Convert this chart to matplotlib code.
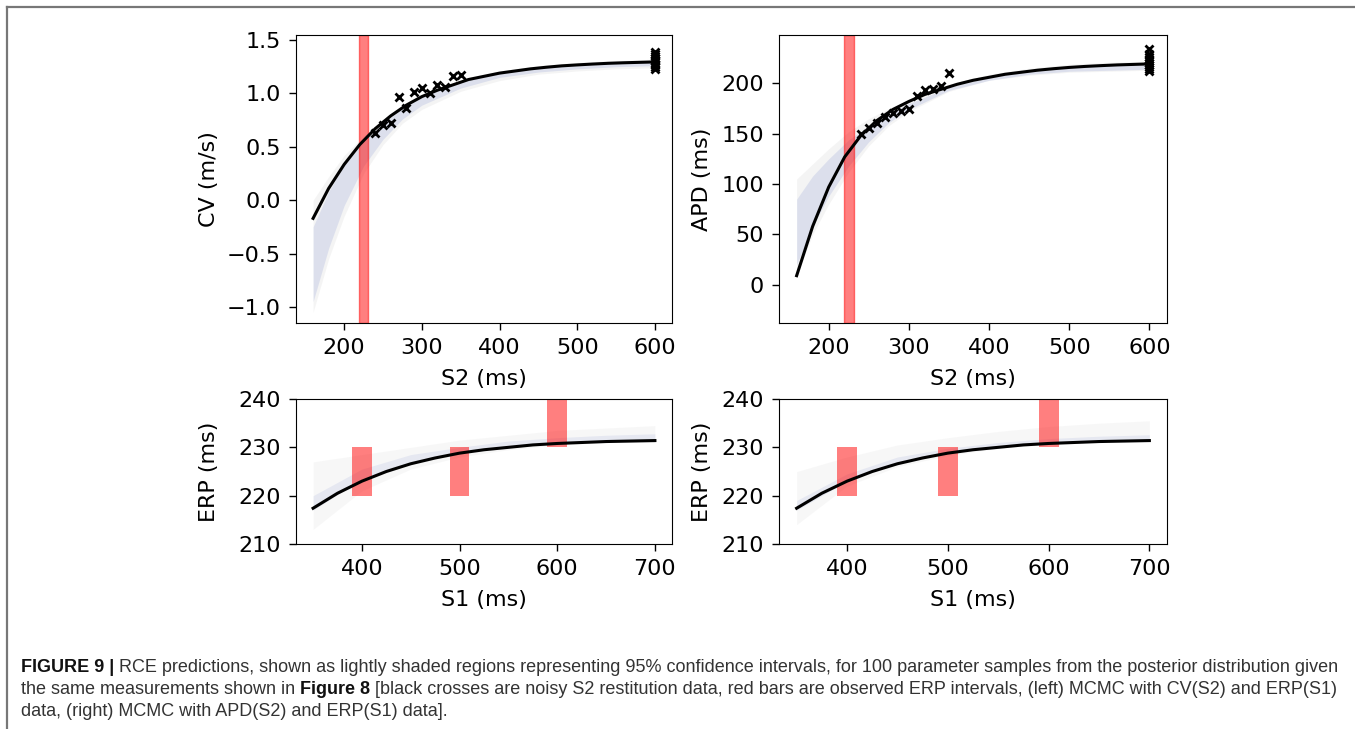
import matplotlib
matplotlib.use("Agg")
import matplotlib.pyplot as plt
from matplotlib.lines import Line2D

# ---------------- data ----------------
# S2 restitution: black mean curve
s2_curve = [160, 180, 200, 220, 240, 260, 280, 300, 320, 340, 360, 380, 400,
            420, 440, 460, 480, 500, 520, 540, 560, 580, 600]
cv_curve = [-0.17, 0.11, 0.335, 0.52, 0.67, 0.79, 0.89, 0.97, 1.03, 1.08, 1.13, 1.16, 1.19,
            1.21, 1.23, 1.245, 1.258, 1.267, 1.275, 1.282, 1.287, 1.291, 1.295]
apd_curve = [9, 58, 97, 127, 148, 163, 174, 182, 189, 194, 199, 203, 206,
             209, 211, 213, 214.5, 215.8, 216.8, 217.6, 218.3, 218.8, 219.3]

# band of posterior samples (outer grey / inner blue)
s2_band = [160, 180, 200, 225, 250, 275, 300, 350, 400, 450, 500, 550, 600]
cv_grey_lo = [-1.05, -0.55, -0.15, 0.25, 0.52, 0.72, 0.85, 1.02, 1.12, 1.18, 1.21, 1.23, 1.24]
cv_grey_hi = [0.0, 0.22, 0.42, 0.60, 0.76, 0.89, 0.99, 1.12, 1.21, 1.26, 1.29, 1.31, 1.32]
cv_blue_lo = [-0.95, -0.45, -0.05, 0.32, 0.57, 0.76, 0.89, 1.05, 1.15, 1.20, 1.23, 1.25, 1.26]
cv_blue_hi = [-0.25, 0.08, 0.33, 0.55, 0.72, 0.86, 0.97, 1.11, 1.19, 1.25, 1.28, 1.30, 1.31]
apd_grey_lo = [10, 50, 80, 112, 138, 158, 172, 192, 203, 208, 211, 212, 213]
apd_grey_hi = [105, 120, 135, 152, 165, 175, 184, 199, 209, 215, 219, 221, 222]
apd_blue_lo = [20, 58, 88, 118, 142, 161, 174, 193, 203, 209, 212, 213, 214]
apd_blue_hi = [85, 108, 125, 144, 158, 170, 180, 196, 206, 212, 216, 218, 219]

# noisy S2 data
s2_obs = [240, 250, 260, 270, 280, 290, 300, 310, 320, 330, 340, 350]
cv_obs = [0.63, 0.70, 0.72, 0.97, 0.86, 1.01, 1.05, 1.00, 1.08, 1.06, 1.16, 1.17]
apd_obs = [150, 156, 161, 167, 171, 173, 175, 187, 193, 194, 197, 210]
s2_obs600 = [600] * 10
cv_obs600 = [1.23, 1.25, 1.27, 1.28, 1.30, 1.31, 1.33, 1.35, 1.37, 1.39]
apd_obs600 = [212, 214, 216, 218, 220, 222, 224, 226, 229, 234]

# ERP interval (red vertical span on top panels)
erp_span = [219, 231]

# ERP(S1)
s1_curve = [350, 375, 400, 425, 450, 475, 500, 525, 550, 575, 600, 625, 650, 675, 700]
erp_curve = [217.4, 220.5, 223.0, 225.0, 226.6, 227.8, 228.8, 229.5, 230.0, 230.5, 230.8,
             231.0, 231.2, 231.3, 231.4]
s1_band = [350, 400, 450, 500, 550, 600, 650, 700]
erpL_grey_lo = [213.0, 221.0, 225.5, 228.0, 229.5, 230.5, 231.0, 231.0]
erpL_grey_hi = [227.0, 228.5, 230.0, 231.5, 232.5, 233.5, 234.0, 234.5]
erpL_blue_lo = [217.0, 223.5, 227.0, 228.8, 230.0, 230.8, 231.3, 231.5]
erpL_blue_hi = [220.0, 225.5, 228.5, 230.0, 231.3, 232.0, 232.5, 232.8]
erpR_grey_lo = [214.0, 222.0, 226.0, 228.3, 229.8, 230.6, 231.0, 231.2]
erpR_grey_hi = [225.0, 228.0, 230.5, 232.0, 233.3, 234.3, 235.0, 235.5]
erpR_blue_lo = [217.0, 223.0, 226.8, 228.8, 230.0, 230.8, 231.2, 231.4]
erpR_blue_hi = [219.0, 224.5, 228.0, 229.8, 231.0, 231.8, 232.3, 232.6]

# observed ERP intervals (red bars)
erp_s1 = [400, 500, 600]
erp_lo = [220, 220, 230]
erp_hi = [230, 230, 250]
erp_bar_width = 20

caption_lines = [
    [("FIGURE 9 | ", True), ("RCE predictions, shown as lightly shaded regions representing 95% confidence intervals, for 100 parameter samples from the posterior distribution given", False)],
    [("the same measurements shown in ", False), ("Figure 8", True), (" [black crosses are noisy S2 restitution data, red bars are observed ERP intervals, (left) MCMC with CV(S2) and ERP(S1)", False)],
    [("data, (right) MCMC with APD(S2) and ERP(S1) data].", False)],
]

# ---------------- figure ----------------
W, H = 1355, 729
fig = plt.figure(figsize=(W / 100, H / 100), dpi=100)
FS = 16

def ax_at(l, t, r, b):
    return fig.add_axes([l / W, 1 - b / H, (r - l) / W, (b - t) / H])

axTL = ax_at(296, 35, 672, 323)
axTR = ax_at(779, 35, 1167, 323)
axBL = ax_at(296, 399, 672, 544)
axBR = ax_at(779, 399, 1167, 544)

grey = '#9a9a9a'
blue = '#7f8fd0'

def top_panel(ax, yc, glo, ghi, blo, bhi, yobs, yobs600, ylabel, ylim, yticks):
    ax.fill_between(s2_band, glo, ghi, color=grey, alpha=0.10, lw=0)
    ax.fill_between(s2_band, blo, bhi, color=blue, alpha=0.20, lw=0)
    ax.axvspan(erp_span[0], erp_span[1], color='red', alpha=0.5)
    ax.plot(s2_curve, yc, color='black', lw=2.2)
    ax.plot(s2_obs, yobs, 'x', color='black', ms=6, mew=2)
    ax.plot(s2_obs600, yobs600, 'x', color='black', ms=6, mew=2)
    ax.set_xlim(138, 622)
    ax.set_ylim(*ylim)
    ax.set_yticks(yticks)
    ax.set_xticks([200, 300, 400, 500, 600])
    ax.set_xlabel('S2 (ms)')
    ax.set_ylabel(ylabel)

top_panel(axTL, cv_curve, cv_grey_lo, cv_grey_hi, cv_blue_lo, cv_blue_hi, cv_obs, cv_obs600,
          'CV (m/s)', (-1.15, 1.547), [-1.0, -0.5, 0.0, 0.5, 1.0, 1.5])
top_panel(axTR, apd_curve, apd_grey_lo, apd_grey_hi, apd_blue_lo, apd_blue_hi, apd_obs, apd_obs600,
          'APD (ms)', (-38, 248), [0, 50, 100, 150, 200])

def bottom_panel(ax, glo, ghi, blo, bhi):
    ax.fill_between(s1_band, glo, ghi, color=grey, alpha=0.07, lw=0)
    ax.fill_between(s1_band, blo, bhi, color=blue, alpha=0.14, lw=0)
    for s, lo, hi in zip(erp_s1, erp_lo, erp_hi):
        ax.fill_between([s - erp_bar_width / 2, s + erp_bar_width / 2], [lo, lo], [hi, hi],
                        color='red', alpha=0.5, lw=0)
    ax.plot(s1_curve, erp_curve, color='black', lw=2.2)
    ax.set_xlim(332.5, 717.5)
    ax.set_ylim(210, 240)
    ax.set_yticks([210, 220, 230, 240])
    ax.set_xticks([400, 500, 600, 700])
    ax.set_xlabel('S1 (ms)')
    ax.set_ylabel('ERP (ms)')

bottom_panel(axBL, erpL_grey_lo, erpL_grey_hi, erpL_blue_lo, erpL_blue_hi)
bottom_panel(axBR, erpR_grey_lo, erpR_grey_hi, erpR_blue_lo, erpR_blue_hi)

for ax in (axTL, axTR, axBL, axBR):
    ax.tick_params(labelsize=FS, length=5, width=1.0, pad=6)
    ax.xaxis.label.set_size(FS)
    ax.yaxis.label.set_size(FS)
    ax.xaxis.labelpad = 8

# aligned y-labels per column (right edge of rotated label, in pixels)
for ax, (l, r) in ((axTL, (296, 672)), (axBL, (296, 672)), (axTR, (779, 1167)), (axBR, (779, 1167))):
    xr = 219 if l == 296 else 712
    ax.yaxis.set_label_coords((xr - l) / (r - l), 0.5)

# frame lines (top and left)
fig.add_artist(Line2D([7 / W, 1], [1 - 6.5 / H, 1 - 6.5 / H], transform=fig.transFigure, color='#777777', lw=1.6))
fig.add_artist(Line2D([7.5 / W, 7.5 / W], [0, 1 - 6.5 / H], transform=fig.transFigure, color='#777777', lw=1.6))

# caption
renderer = fig.canvas.get_renderer()
cap_fam = ['Liberation Sans', 'DejaVu Sans']
baselines = [672, 694, 716]
for line, yb in zip(caption_lines, baselines):
    x = 21
    for txt, bold in line:
        t = fig.text(x / W, 1 - yb / H, txt, family=cap_fam, fontsize=13.0,
                     weight='bold' if bold else 'normal',
                     color='#111111' if bold else '#333333', va='baseline', ha='left')
        x += t.get_window_extent(renderer).width

fig.savefig('out.png', dpi=100)
